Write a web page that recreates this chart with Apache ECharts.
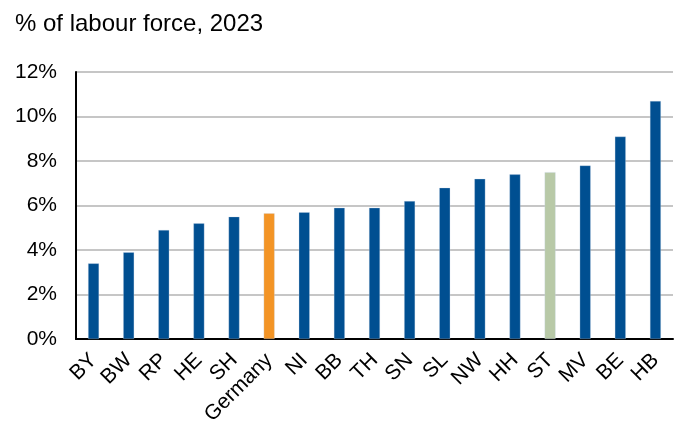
<!DOCTYPE html>
<html>
<head>
<meta charset="utf-8">
<script src="https://cdn.jsdelivr.net/npm/echarts@6/dist/echarts.min.js"></script>
<style>html,body{margin:0;padding:0;background:#fff;}#c{width:681px;height:423px;}</style>
</head>
<body>
<div id="c"></div>
<script>
const categories = ['BY','BW','RP','HE','SH','Germany','NI','BB','TH','SN','SL','NW','HH','ST','MV','BE','HB'];
const values = [3.4, 3.9, 4.9, 5.2, 5.5, 5.65, 5.7, 5.9, 5.9, 6.2, 6.8, 7.2, 7.4, 7.5, 7.8, 9.1, 10.7];
const yTicks = [0, 2, 4, 6, 8, 10, 12];
const highlight = {'Germany': '#F39425', 'ST': '#B8C9A7'};
const baseColor = '#004F91';

const chart = echarts.init(document.getElementById('c'), null, {renderer: 'canvas'});
chart.setOption({
  animation: false,
  title: {
    text: '% of labour force, 2023',
    left: 10, top: 7,
    textStyle: {fontFamily: 'Liberation Sans, Arial, sans-serif', fontSize: 24, fontWeight: 'normal', color: '#000'}
  },
  grid: {left: 76, right: 8, top: 72, bottom: 84, containLabel: false, outerBoundsMode: 'none'},
  xAxis: {
    type: 'category',
    data: categories,
    axisLine: {lineStyle: {color: '#000', width: 2}},
    axisTick: {show: false},
    axisLabel: {rotate: 45, interval: 0, margin: 18, fontFamily: 'Liberation Sans, Arial, sans-serif', fontSize: 21, color: '#000'}
  },
  yAxis: {
    type: 'value',
    min: yTicks[0], max: yTicks[yTicks.length - 1], interval: 2,
    axisLine: {show: true, lineStyle: {color: '#000', width: 2}},
    axisTick: {show: false},
    splitLine: {lineStyle: {color: '#B3B3B3', width: 1.5}},
    axisLabel: {formatter: '{value}%', margin: 19, fontFamily: 'Liberation Sans, Arial, sans-serif', fontSize: 21, color: '#000'}
  },
  series: [{
    type: 'bar',
    barWidth: 11,
    data: values.map((v, i) => ({
      value: v,
      itemStyle: {color: highlight[categories[i]] || baseColor, borderColor: 'rgba(200,215,235,0.6)', borderWidth: 0.5}
    }))
  }]
});
</script>
</body>
</html>
